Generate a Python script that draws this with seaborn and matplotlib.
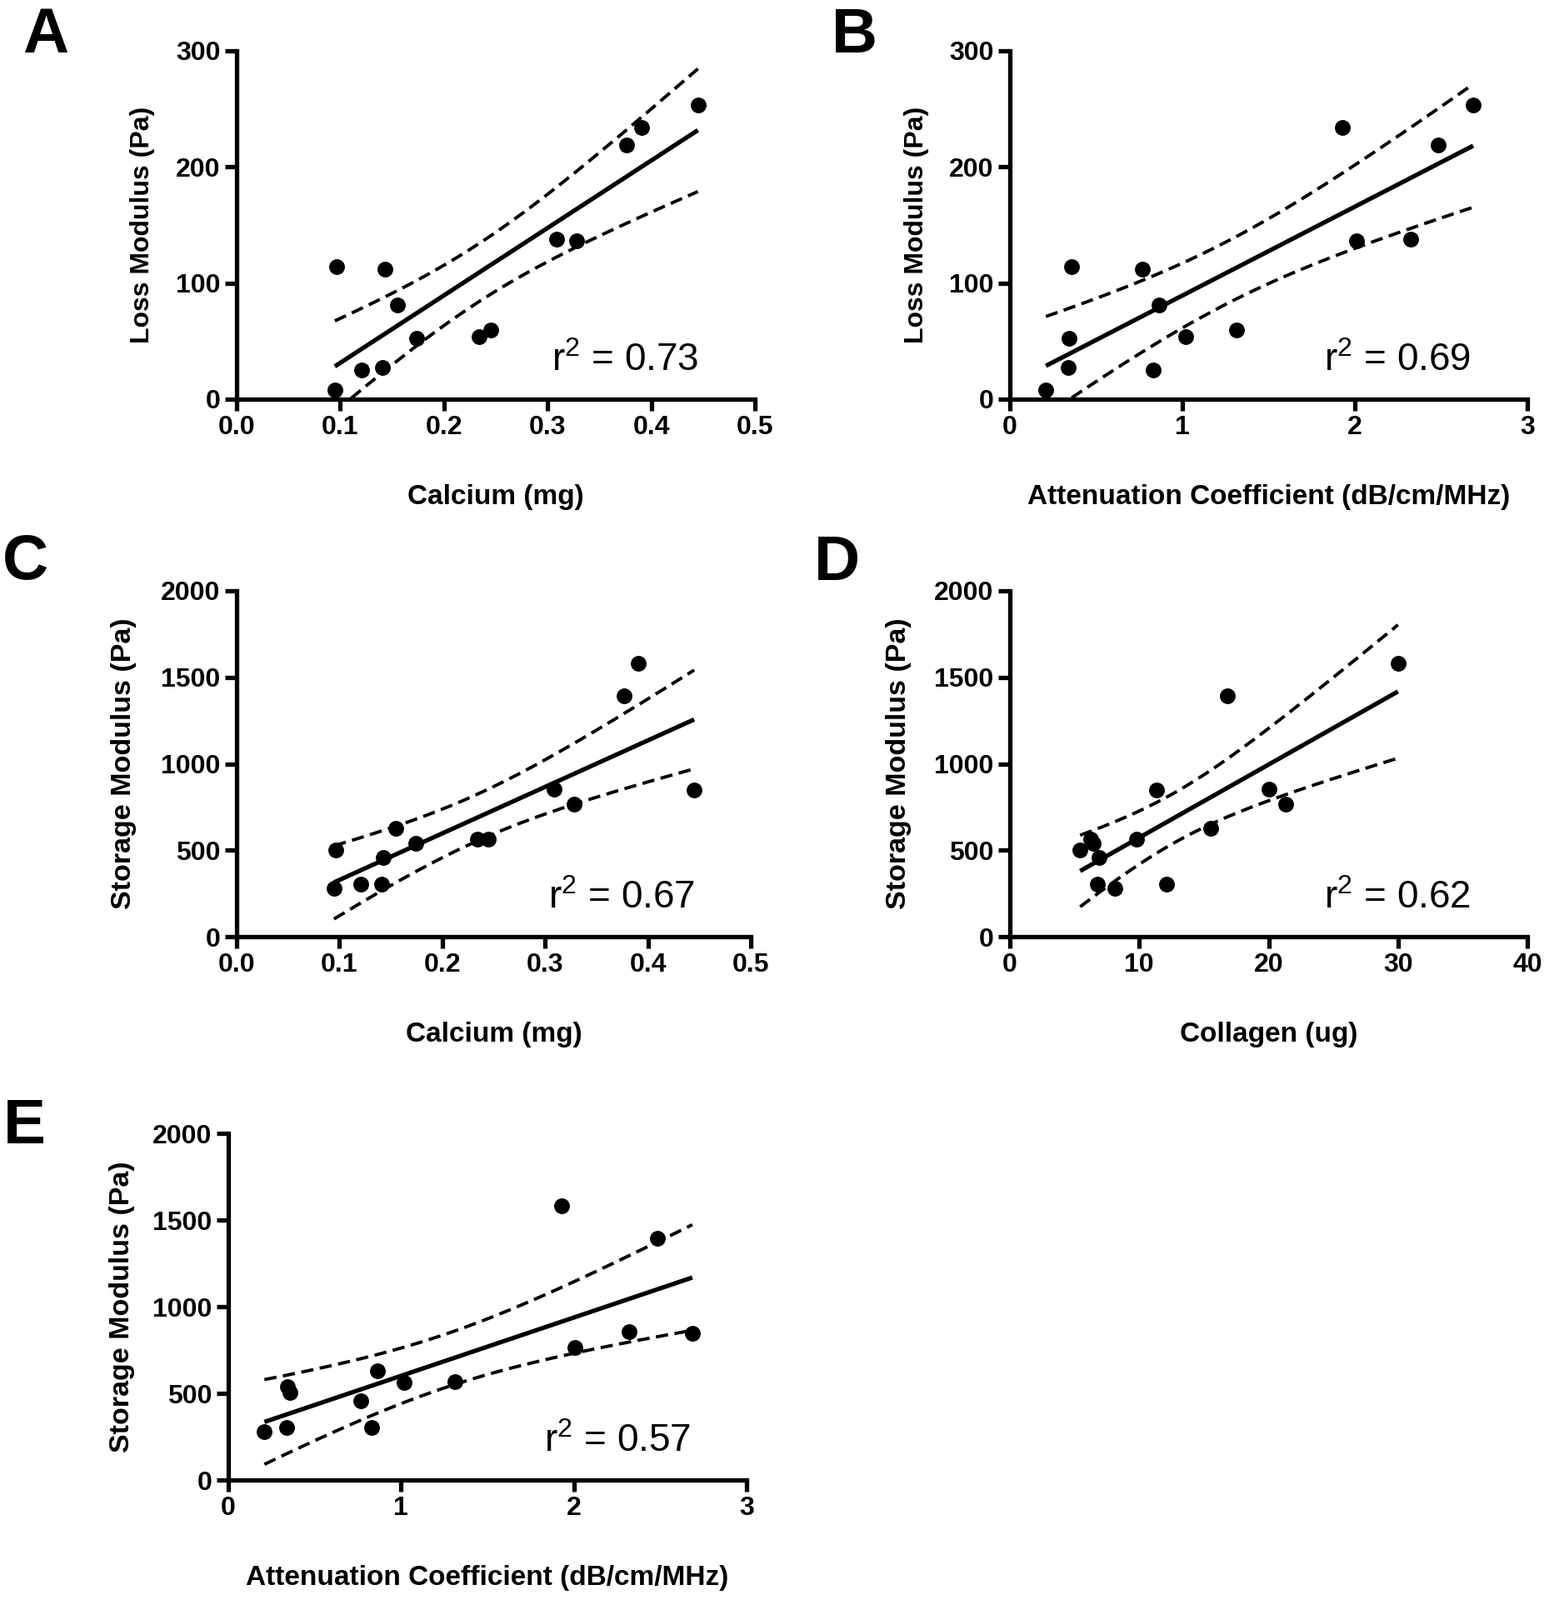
import numpy as np
import pandas as pd
import matplotlib
matplotlib.use("Agg")
import matplotlib.pyplot as plt
import seaborn as sns

# ---- data (14 samples) ----
calcium = [0.0947, 0.0967, 0.174, 0.141, 0.143, 0.1206, 0.155, 0.234, 0.245, 0.391, 0.328, 0.309, 0.3765, 0.445]
attenuation = [0.209, 0.356, 0.344, 0.338, 0.767, 0.829, 0.864, 1.019, 1.313, 1.929, 2.008, 2.322, 2.483, 2.686]
loss_modulus = [8.2, 114.4, 52.6, 27.6, 111.9, 25.0, 80.9, 54.1, 59.3, 234.3, 136.3, 138.1, 219.0, 253.0]
storage_modulus = [280, 503, 540, 302, 456, 302, 628, 562, 566, 1580, 766, 854, 1393, 848]
collagen = [8.12, 5.43, 6.45, 6.78, 6.87, 12.1, 15.55, 6.28, 9.82, 30.0, 21.34, 20.03, 16.8, 11.36]

panel_letters = ["A", "B", "C", "D", "E"]
r2_labels = ["0.73", "0.69", "0.67", "0.62", "0.57"]
x_labels = ["Calcium (mg)", "Attenuation Coefficient (dB/cm/MHz)", "Calcium (mg)",
            "Collagen (ug)", "Attenuation Coefficient (dB/cm/MHz)"]
y_labels = ["Loss Modulus (Pa)", "Loss Modulus (Pa)", "Storage Modulus (Pa)",
            "Storage Modulus (Pa)", "Storage Modulus (Pa)"]
calcium_ticks = [0.0, 0.1, 0.2, 0.3, 0.4, 0.5]
calcium_ticklabels = ["0.0", "0.1", "0.2", "0.3", "0.4", "0.5"]
atten_ticks = [0, 1, 2, 3]
collagen_ticks = [0, 10, 20, 30, 40]
loss_ticks = [0, 100, 200, 300]
storage_ticks = [0, 500, 1000, 1500, 2000]

df = pd.DataFrame({"calcium": calcium, "attenuation": attenuation, "loss": loss_modulus,
                   "storage": storage_modulus, "collagen": collagen})

sns.set_style("ticks")
plt.rcParams["font.family"] = ["Liberation Sans", "DejaVu Sans"]
plt.rcParams["mathtext.fontset"] = "custom"
plt.rcParams["mathtext.rm"] = "Liberation Sans"
plt.rcParams["mathtext.it"] = "Liberation Sans"
plt.rcParams["mathtext.bf"] = "Liberation Sans:bold"
for key in ("text.color", "axes.labelcolor", "xtick.color", "ytick.color", "axes.edgecolor"):
    plt.rcParams[key] = "black"

fig = plt.figure(figsize=(18.59, 19.2), dpi=100)
W, H = 1859.0, 1920.0

def axrect(x0, x1, ytop, ybot):
    return [x0 / W, 1 - ybot / H, (x1 - x0) / W, (ybot - ytop) / H]

rects = [axrect(284, 906, 61, 479), axrect(1212, 1833, 61, 479),
         axrect(284, 901, 709, 1124), axrect(1212, 1833, 709, 1124),
         axrect(274, 896, 1360, 1776)]

specs = [
    ("calcium", "loss", (0, 0.5), (0, 300), calcium_ticks, calcium_ticklabels, loss_ticks, 23, -0.157),
    ("attenuation", "loss", (0, 3), (0, 300), atten_ticks, [str(t) for t in atten_ticks], loss_ticks, 23, -0.157),
    ("calcium", "storage", (0, 0.5), (0, 2000), calcium_ticks, calcium_ticklabels, storage_ticks, 24.5, -0.195),
    ("collagen", "storage", (0, 40), (0, 2000), collagen_ticks, [str(t) for t in collagen_ticks], storage_ticks, 24.5, -0.19),
    ("attenuation", "storage", (0, 3), (0, 2000), atten_ticks, [str(t) for t in atten_ticks], storage_ticks, 24.5, -0.18),
]

letter_pos = [(27, 63), (998, 63), (3, 695), (977, 696), (4, 1372)]
T_CRIT = 2.1788  # t(0.975, df=12)

for i, (xc, yc, xl, yl, xt, xtl, yt, ylsize, ylx) in enumerate(specs):
    ax = fig.add_axes(rects[i])
    sns.regplot(data=df, x=xc, y=yc, ax=ax, ci=None, truncate=True,
                scatter_kws=dict(s=185, color="black", alpha=1, linewidths=0, zorder=3, clip_on=False),
                line_kws=dict(color="black", lw=3.8, solid_capstyle="butt", zorder=2))
    # 95% confidence bands of the fitted line
    x = df[xc].to_numpy(float)
    y = df[yc].to_numpy(float)
    n = len(x)
    b1, b0 = np.polyfit(x, y, 1)
    resid = y - (b0 + b1 * x)
    s = np.sqrt(np.sum(resid ** 2) / (n - 2))
    xs = np.linspace(x.min(), x.max(), 200)
    se = s * np.sqrt(1.0 / n + (xs - x.mean()) ** 2 / np.sum((x - x.mean()) ** 2))
    yfit = b0 + b1 * xs
    for sign in (1, -1):
        yy = yfit + sign * T_CRIT * se
        m = yy >= yl[0]
        ax.plot(xs[m], yy[m], color="black", lw=2.8, dashes=(3.8, 2.0), zorder=2)

    ax.set_xlim(*xl)
    ax.set_ylim(*yl)
    ax.set_xticks(xt)
    ax.set_xticklabels(xtl, fontweight="bold", fontsize=23)
    ax.set_yticks(yt)
    ax.set_yticklabels([str(v) for v in yt], fontweight="bold", fontsize=23)
    sns.despine(ax=ax)
    for sp in ("left", "bottom"):
        ax.spines[sp].set_linewidth(3.8)
        ax.spines[sp].set_color("black")
        ax.spines[sp].set_capstyle("projecting")
    ax.tick_params(width=3.8, length=10, pad=4, colors="black")
    ax.set_xlabel(x_labels[i], fontsize=24, fontweight="bold", color="black")
    ax.set_ylabel(y_labels[i], fontsize=ylsize, fontweight="bold", color="black")
    ax.xaxis.set_label_coords(0.5, -0.245)
    ax.yaxis.set_label_coords(ylx, 0.5)
    ax.text(0.891, 0.081, r"r$^{2}$ = " + r2_labels[i], transform=ax.transAxes,
            ha="right", va="baseline", fontsize=33, color="black")
    lx, ly = letter_pos[i]
    fig.text(lx / W, 1 - ly / H, panel_letters[i], fontsize=55, fontweight="bold",
             ha="left", va="baseline", color="black")

fig.savefig("out.png", dpi=100)
